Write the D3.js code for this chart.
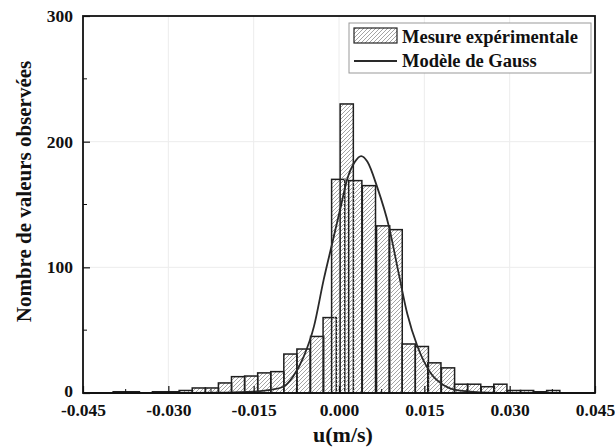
<!DOCTYPE html>
<html>
<head>
<meta charset="utf-8">
<script src="https://cdn.jsdelivr.net/npm/d3@7"></script>
<style>
    body { margin: 0; background: #fff; }
    text { font-family: "Liberation Serif", "Times New Roman", serif; font-weight: bold; fill: #111; }
</style>
</head>
<body>
<svg id="chart" width="615" height="448"></svg>
<script>
// histogram bins (left edge in m/s) and counts
var binLeft = [-0.0397, -0.0374, -0.0328, -0.0305, -0.0281, -0.0258, -0.0235, -0.0212,
               -0.0189, -0.0166, -0.0143, -0.0120, -0.0097, -0.0074, -0.0050, -0.0028,
               -0.0013, 0.0002, 0.0017, 0.0041, 0.0066, 0.0088, 0.0111, 0.0134,
               0.0156, 0.0180, 0.0203, 0.0226, 0.0250, 0.0272, 0.0296, 0.0319,
               0.0342, 0.0365];
var binCount = [1, 1, 1, 1, 2, 4, 4, 8,
                13, 13.5, 16, 17, 31, 35, 45, 60,
                170, 230, 169, 165, 133, 130, 39, 37,
                24, 20, 7, 7, 5, 7, 2, 2,
                1, 2];
var binWidth = 0.00232;

// gauss model curve
var gaussX = [-0.045, -0.020, -0.015, -0.0121, -0.0098, -0.0081, -0.0062, -0.0044,
              -0.0027, -0.0012, 0.0003, 0.0014, 0.0028, 0.0039, 0.0050, 0.0067,
              0.0088, 0.0105, 0.0120, 0.0138, 0.0161, 0.0185, 0.0210, 0.0250,
              0.0300, 0.0450];
var gaussY = [0, 0.3, 1, 2.5, 5, 13, 29, 53,
              90, 119, 148, 169.5, 184, 188.5, 184, 164,
              132, 95, 63, 37, 16, 6, 2, 0.5,
              0, 0];

var xTicks = [-0.045, -0.030, -0.015, 0.000, 0.015, 0.030, 0.045];
var xMinor = [-0.0375, -0.0225, -0.0075, 0.0075, 0.0225, 0.0375];
var yTicks = [0, 100, 200, 300];
var yMinor = [50, 150, 250];

var legendLabels = ["Mesure expérimentale", "Modèle de Gauss"];

var svg = d3.select("#chart");
var pLeft = 83, pRight = 595, pTop = 16, pBottom = 393;

var x = d3.scaleLinear().domain([-0.045, 0.045]).range([pLeft, pRight]);
var y = d3.scaleLinear().domain([0, 300]).range([pBottom, pTop]);

// hatch pattern for the bars
var defs = svg.append("defs");
var pat = defs.append("pattern")
    .attr("id", "hatch")
    .attr("patternUnits", "userSpaceOnUse")
    .attr("width", 4)
    .attr("height", 4);
pat.append("path")
    .attr("d", "M-1,1 l2,-2 M0,4 l4,-4 M3,5 l2,-2")
    .attr("stroke", "#9a9a9a")
    .attr("stroke-width", 0.9);

// faint grid
svg.append("g").selectAll("line")
    .data(xTicks.slice(1, -1))
    .enter().append("line")
    .attr("x1", d => x(d)).attr("x2", d => x(d))
    .attr("y1", pTop).attr("y2", pBottom)
    .attr("stroke", "#ececec").attr("stroke-width", 1);
svg.append("g").selectAll("line")
    .data([100, 200])
    .enter().append("line")
    .attr("x1", pLeft).attr("x2", pRight)
    .attr("y1", d => y(d)).attr("y2", d => y(d))
    .attr("stroke", "#ececec").attr("stroke-width", 1);

// bars
svg.append("g").selectAll("rect")
    .data(binLeft)
    .enter().append("rect")
    .attr("x", d => x(d))
    .attr("width", d => x(d + binWidth) - x(d))
    .attr("y", (d, i) => y(binCount[i]))
    .attr("height", (d, i) => y(0) - y(binCount[i]))
    .attr("fill", "url(#hatch)")
    .attr("stroke", "#1e1e1e")
    .attr("stroke-width", 1.5);

// gauss curve
var line = d3.line()
    .x(d => x(d[0]))
    .y(d => y(d[1]))
    .curve(d3.curveMonotoneX);
svg.append("path")
    .datum(gaussX.map((d, i) => [d, gaussY[i]]))
    .attr("d", line)
    .attr("fill", "none")
    .attr("stroke", "#2a2a2a")
    .attr("stroke-width", 1.8);

// axes with inward ticks
var xAxis = svg.append("g")
    .attr("transform", "translate(0," + pBottom + ")")
    .call(d3.axisBottom(x).tickValues(xTicks).tickSizeInner(-7).tickSizeOuter(0)
        .tickPadding(11).tickFormat(d3.format(".3f")));
xAxis.append("g").selectAll("line")
    .data(xMinor)
    .enter().append("line")
    .attr("x1", d => x(d)).attr("x2", d => x(d))
    .attr("y1", 0).attr("y2", -4)
    .attr("stroke", "#111");

var yAxis = svg.append("g")
    .attr("transform", "translate(" + pLeft + ",0)")
    .call(d3.axisLeft(y).tickValues(yTicks).tickSizeInner(-7).tickSizeOuter(0)
        .tickPadding(10));
yAxis.append("g").selectAll("line")
    .data(yMinor)
    .enter().append("line")
    .attr("x1", 0).attr("x2", 4)
    .attr("y1", d => y(d)).attr("y2", d => y(d))
    .attr("stroke", "#111");

svg.selectAll(".domain").remove();
svg.selectAll(".tick line").attr("stroke", "#111").attr("stroke-width", 1.2);
svg.selectAll(".tick text")
    .style("font-family", "'Liberation Serif', 'Times New Roman', serif")
    .style("font-weight", "bold")
    .style("font-size", "17.5px")
    .attr("fill", "#111");
xAxis.selectAll(".tick text").text(d => d3.format(".3f")(d).replace("−", "-"));
// lift the "0" label a touch so it clears the x labels
yAxis.selectAll(".tick text").filter(d => d === 0).attr("dy", "0.2em");

// frame
svg.append("rect")
    .attr("x", pLeft).attr("y", pTop)
    .attr("width", pRight - pLeft).attr("height", pBottom - pTop)
    .attr("fill", "none")
    .attr("stroke", "#111")
    .attr("stroke-width", 1.8);

// axis titles
svg.append("text")
    .attr("x", (pLeft + pRight) / 2 + 4)
    .attr("y", 442)
    .attr("text-anchor", "middle")
    .style("font-size", "22px")
    .text("u(m/s)");
svg.append("text")
    .attr("transform", "translate(31," + ((pTop + pBottom) / 2 - 13) + ") rotate(-90)")
    .attr("text-anchor", "middle")
    .style("font-size", "21px")
    .text("Nombre de valeurs observées");

// legend
var lg = svg.append("g");
lg.append("rect")
    .attr("x", 349).attr("y", 23)
    .attr("width", 242).attr("height", 50)
    .attr("fill", "#fff")
    .attr("stroke", "#999")
    .attr("stroke-width", 1);
lg.append("rect")
    .attr("x", 354).attr("y", 28)
    .attr("width", 43).attr("height", 15)
    .attr("fill", "url(#hatch)")
    .attr("stroke", "#222")
    .attr("stroke-width", 1.2);
lg.append("line")
    .attr("x1", 354).attr("x2", 397)
    .attr("y1", 61).attr("y2", 61)
    .attr("stroke", "#2a2a2a")
    .attr("stroke-width", 1.8);
lg.selectAll("text.lab")
    .data(legendLabels)
    .enter().append("text")
    .attr("class", "lab")
    .attr("x", 402)
    .attr("y", (d, i) => 42.5 + i * 24)
    .style("font-size", "18.5px")
    .text(d => d);
</script>
</body>
</html>
